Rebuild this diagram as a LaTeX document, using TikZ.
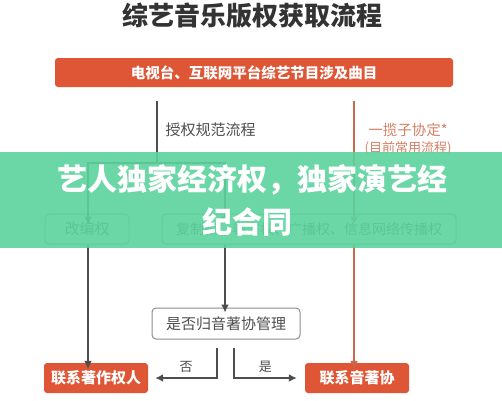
\documentclass[tikz,border=0pt]{standalone}
\usepackage{fontspec}
\setmainfont{Noto Sans CJK SC}
\usetikzlibrary{positioning,arrows.meta}
\definecolor{hongse}{RGB}{222,86,54}
\definecolor{zongse}{RGB}{200,104,78}
\definecolor{qianhong}{RGB}{214,128,100}
\definecolor{huise}{RGB}{78,78,78}
\definecolor{kuangse}{RGB}{140,140,140}
\definecolor{lvse}{RGB}{92,211,157}
\tikzset{
  >={Latex[length=8pt,width=8pt]},
  hongkuang/.style={fill=hongse,rounded corners=3pt,text=white,font=\bfseries\fontsize{15}{15}\selectfont,
    minimum height=30pt,inner sep=0pt},
  huikuang/.style={draw=kuangse,line width=1pt,rounded corners=4pt,fill=white,text=huise,
    font=\fontsize{15}{15}\selectfont,minimum height=30pt,inner sep=0pt},
  huixian/.style={draw=huise,line width=2.5pt},
  hongxian/.style={draw=zongse,line width=2pt}
}
\begin{document}
\begin{tikzpicture}[x=1pt,y=-1pt]
  \useasboundingbox[fill=white] (0,0) rectangle (502,400);
  \node[text=black!80,font=\bfseries\fontsize{26}{26}\selectfont] (biaoti) at (252,16) {综艺音乐版权获取流程};
  \node[hongkuang,minimum width=398pt,minimum height=29pt,font=\bfseries\fontsize{14.5}{14.5}\selectfont] (jiemu) at (254,72.5)
    {电视台、互联网平台综艺节目涉及曲目};
  % two routes
  \coordinate (zuoqi) at (157,101);
  \coordinate (youqi) at (354,101);
  \coordinate (fencha) at (157,163);
  \node[text=huise,font=\fontsize{15}{15}\selectfont,anchor=west] (guifan) at (162,130) {授权规范流程};
  \node[text=qianhong,font=\fontsize{14.5}{14.5}\selectfont] (xieding) at (408,130) {一揽子协定*};
  \node[text=qianhong,font=\fontsize{13}{13}\selectfont] (changyong) at (408,148) {(目前常用流程)};
  \node[huikuang,minimum width=84pt] (gaibian) at (87,229) {改编权};
  \node[huikuang,minimum width=294pt,font=\fontsize{14}{14}\selectfont] (fuzhi) at (309,229)
    {复制权、表演权、广播权、信息网络传播权};
  \node[huikuang,minimum width=148pt,minimum height=31pt] (shifou) at (226,323.5) {是否归音著协管理};
  \node[hongkuang,minimum width=104pt] (zhuzuo) at (96,378) {联系著作权人};
  \node[hongkuang,minimum width=104pt] (yinzhu) at (357,378) {联系音著协};
  \coordinate (zuojian) at (88,163);
  \coordinate (youjian) at (225,163);
  \draw[huixian] (zuoqi) -- (fencha);
  \draw[huixian,->] (fencha) -- (zuojian) -- ([yshift=-11pt]gaibian.north -| zuojian);
  \draw[huixian,->] (fencha) -- (youjian) -- ([yshift=-11pt]fuzhi.north -| youjian);
  \draw[hongxian,->] (youqi) -- ([yshift=-11pt]fuzhi.north -| youqi);
  \draw[huixian,->] (gaibian.south -| zuojian) -- ([yshift=-6pt]zhuzuo.north -| zuojian);
  \draw[huixian,->] (fuzhi.south -| youjian) -- ([yshift=-5pt]shifou.north -| youjian);
  \draw[hongxian,->] (fuzhi.south -| youqi) -- ([yshift=-6pt]yinzhu.north -| youqi);
  % yes / no
  \coordinate (fou) at (217,348);
  \coordinate (shi) at (234,348);
  \draw[huixian,->] (fou) |- ([xshift=7pt]zhuzuo.east) node[pos=0.75,above=1pt,text=huise,font=\fontsize{13}{13}\selectfont] {否};
  \draw[huixian,->] (shi) |- ([xshift=-8pt]yinzhu.west) node[pos=0.75,above=1pt,text=huise,font=\fontsize{13}{13}\selectfont] {是};
  % overlay banner
  \fill[lvse,opacity=0.9] (0,152) rectangle (502,248);
  \node[text=white,font=\bfseries\fontsize{30}{30}\selectfont] (hengfu) at (252,180) {艺人独家经济权，独家演艺经};
  \node[text=white,font=\bfseries\fontsize{30}{30}\selectfont] (hengfu2) at (247,222) {纪合同};
\end{tikzpicture}
\end{document}
